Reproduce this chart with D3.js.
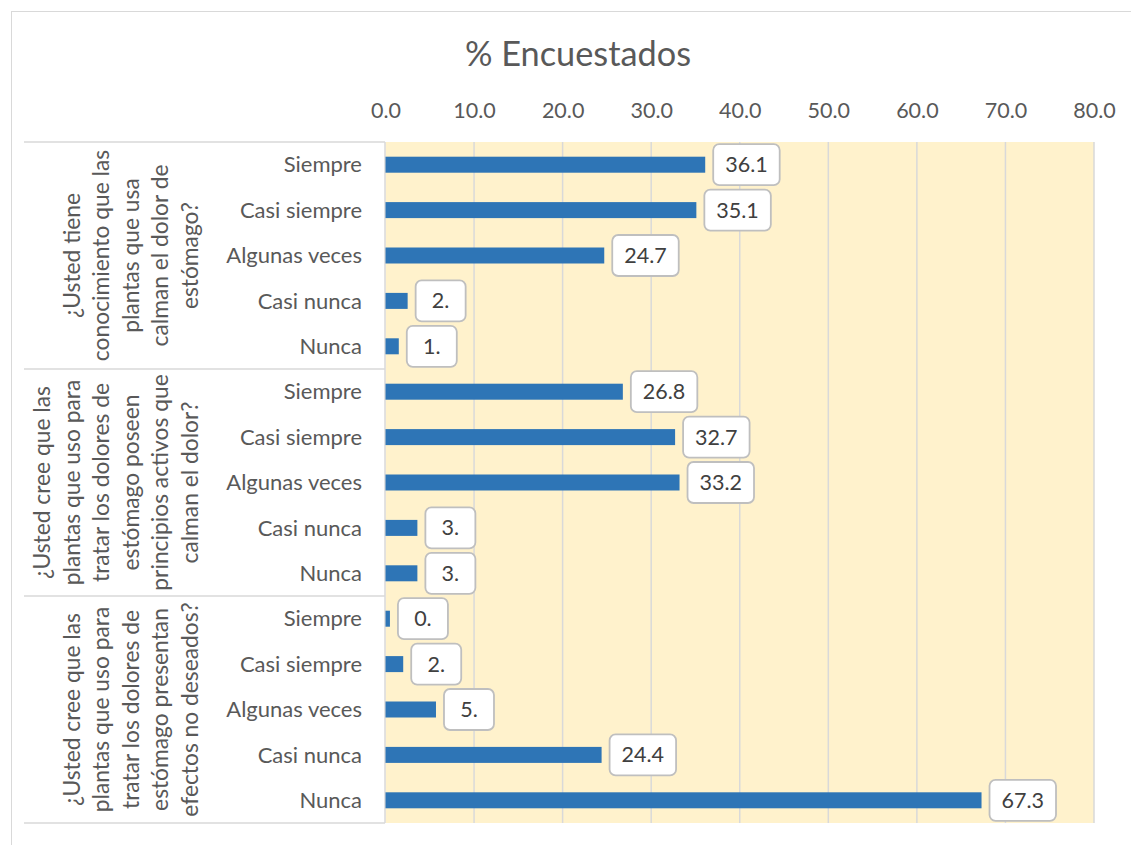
<!DOCTYPE html>
<html><head><meta charset="utf-8">
<script src="https://cdn.jsdelivr.net/npm/d3@7"></script>
<style>body{margin:0;background:#fff;} svg{display:block;font-family:Lato,"Open Sans",sans-serif;}</style>
</head><body>
<script>
const title = "% Encuestados";
const groups = [
  ["¿Usted tiene","conocimiento que las","plantas que usa","calman el dolor de","estómago?"],
  ["¿Usted cree que las","plantas que uso para","tratar los dolores de","estómago poseen","principios activos que","calman el dolor?"],
  ["¿Usted cree que las","plantas que uso para","tratar los dolores de","estómago presentan","efectos no deseados?"]
];
const categories = ["Siempre","Casi siempre","Algunas veces","Casi nunca","Nunca"];
const values1 = [36.1, 35.1, 24.7, 2.5, 1.5];
const values2 = [26.8, 32.7, 33.2, 3.6, 3.6];
const values3 = [0.5, 2.0, 5.7, 24.4, 67.3];
const labels1 = ["36.1","35.1","24.7","2.","1."];
const labels2 = ["26.8","32.7","33.2","3.","3."];
const labels3 = ["0.","2.","5.","24.4","67.3"];
const ticks = [0,10,20,30,40,50,60,70,80];

const W = 1131, H = 845;
const svg = d3.select("body").append("svg").attr("width", W).attr("height", H);

svg.append("rect").attr("x",11.5).attr("y",11.5).attr("width",1130).attr("height",840)
  .attr("fill","#fff").attr("stroke","#d9d9d9").attr("stroke-width",1);

const allVals = [values1, values2, values3];
const allLabs = [labels1, labels2, labels3];
const rows = [];
allVals.forEach((vals, g) => vals.forEach((v, i) => rows.push({g, cat: categories[i], v, lab: allLabs[g][i], key: g + "-" + i})));

const x = d3.scaleLinear().domain([0, 80]).range([385.5, 1094]);
const band = d3.scaleBand().domain(rows.map(d => d.key)).range([142, 823]);

svg.append("rect").attr("x", x(0)).attr("y", 142).attr("width", x(80) - x(0)).attr("height", 681).attr("fill", "#fff2cc");

svg.append("g").selectAll("line").data(ticks.slice(1)).join("line")
  .attr("x1", d => x(d)).attr("x2", d => x(d)).attr("y1", 142).attr("y2", 823)
  .attr("stroke", "#d9d9d9").attr("stroke-width", 1.5);

const ax = svg.append("g").attr("transform", "translate(0,118)")
  .call(d3.axisTop(x).tickValues(ticks).tickFormat(d3.format(".1f")).tickSize(0).tickPadding(0));
ax.select(".domain").remove();
ax.selectAll("text").attr("font-size", 21.5).attr("fill", "#595959").attr("font-family", "Lato").attr("dy", 0);

svg.append("text").attr("x", 578).attr("y", 66).attr("text-anchor", "middle")
  .attr("font-size", 34.3).attr("fill", "#595959").text(title);

const sep = [0, 5, 10, 15].map(k => 142 + k * band.step());
svg.append("g").selectAll("line").data(sep).join("line")
  .attr("x1", 24).attr("x2", 385).attr("y1", d => d).attr("y2", d => d)
  .attr("stroke", "#d9d9d9").attr("stroke-width", 1.5);
svg.append("line").attr("x1", 385).attr("x2", 385).attr("y1", 142).attr("y2", 823)
  .attr("stroke", "#d9d9d9").attr("stroke-width", 1.5);

svg.append("g").selectAll("text").data(rows).join("text")
  .attr("x", 362).attr("y", d => band(d.key) + band.bandwidth() / 2).attr("dy", "0.35em")
  .attr("text-anchor", "end").attr("font-size", 22).attr("fill", "#595959").text(d => d.cat);

groups.forEach((lines, g) => {
  const cy = 142 + (g * 5 + 2.5) * band.step();
  const n = lines.length;
  lines.forEach((ln, i) => {
    const cx = 190 - (n - 1 - i) * 29.6;
    svg.append("text").attr("transform", `translate(${cx},${cy}) rotate(-90)`)
      .attr("text-anchor", "middle").attr("dy", "0.35em")
      .attr("font-size", 22.8).attr("fill", "#595959").text(ln);
  });
});

svg.append("g").selectAll("rect").data(rows).join("rect")
  .attr("x", x(0)).attr("y", d => band(d.key) + band.bandwidth() / 2 - 8)
  .attr("width", d => x(d.v) - x(0)).attr("height", 16).attr("fill", "#2e75b6");

const lg = svg.append("g").selectAll("g").data(rows).join("g")
  .attr("transform", d => `translate(${x(d.v) + 8},${band(d.key) + band.bandwidth() / 2})`);
lg.each(function(d) {
  const g = d3.select(this);
  const t = g.append("text").attr("font-size", 21.5).attr("fill", "#404040").attr("dy", "0.35em")
    .attr("text-anchor", "middle").text(d.lab);
  const w = Math.max(50, t.node().getComputedTextLength() + 24);
  g.insert("rect", "text").attr("x", 0).attr("y", -20.5).attr("width", w).attr("height", 41)
    .attr("rx", 6).attr("fill", "#fff").attr("stroke", "#bfbfbf").attr("stroke-width", 1.8);
  t.attr("x", w / 2);
});
</script>
</body></html>
